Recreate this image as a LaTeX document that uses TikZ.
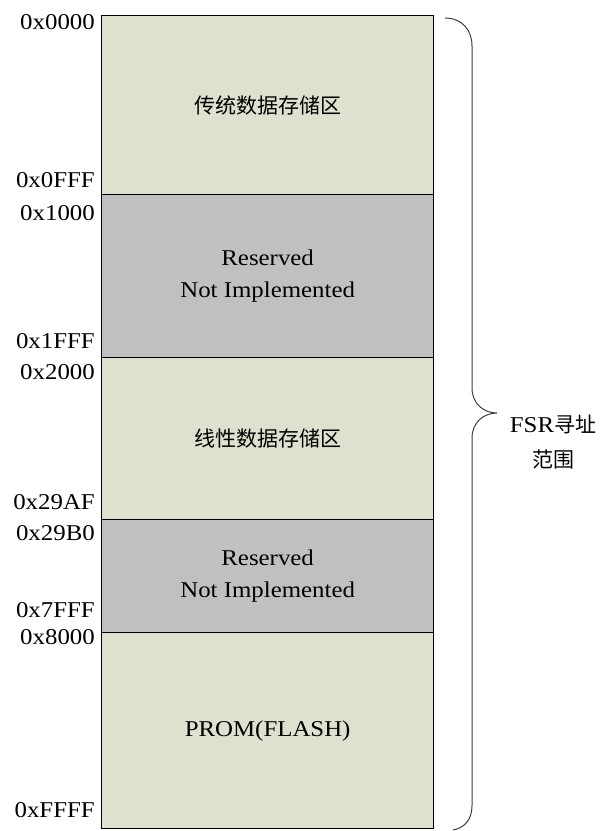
\documentclass[tikz,border=0pt]{standalone}
\usepackage{fontspec}
\setmainfont{Liberation Serif}[FakeStretch=1.1]
\newfontfamily\cjk{Noto Sans CJK SC}
\definecolor{memgreen}{RGB}{221,225,205}
\definecolor{memgray}{RGB}{192,192,192}
\definecolor{bracegray}{RGB}{60,60,60}
\begin{document}
\begin{tikzpicture}[x=1pt,y=-1pt,
  block/.style={draw=black, line width=1.3pt, anchor=north west, minimum width=332pt,
    inner sep=0pt, align=center, font=\fontsize{22.6}{32}\selectfont},
  addr/.style={anchor=east, inner sep=0pt, font=\fontsize{22.6}{28}\selectfont}]
\useasboundingbox (0,0) rectangle (611,831);
\node[block, fill=memgreen, minimum height=179pt] (b1) at (101,15) {{\cjk\fontsize{21}{28}\selectfont 传统数据存储区}};
\node[block, fill=memgray, minimum height=163pt] (b2) at (101,194) {Reserved\\Not Implemented};
\node[block, fill=memgreen, minimum height=162pt] (b3) at (101,357) {{\cjk\fontsize{21}{28}\selectfont 线性数据存储区}};
\node[block, fill=memgray, minimum height=113pt] (b4) at (101,519) {Reserved\\Not Implemented};
\node[block, fill=memgreen, minimum height=196pt] (b5) at (101,632) {PROM(FLASH)};
\node[addr] (a1) at (95,22) {0x0000};
\node[addr] (a2) at (95,180) {0x0FFF};
\node[addr] (a3) at (95,213) {0x1000};
\node[addr] (a4) at (95,341) {0x1FFF};
\node[addr] (a5) at (95,372) {0x2000};
\node[addr] (a6) at (95,502) {0x29AF};
\node[addr] (a7) at (95,533) {0x29B0};
\node[addr] (a8) at (95,610) {0x7FFF};
\node[addr] (a9) at (95,637) {0x8000};
\node[addr] (a10) at (95,810) {0xFFFF};
\coordinate (bt) at (445,18);
\coordinate (tip) at (497,413);
\coordinate (bb) at (453,830);
\draw[bracegray, line width=1pt] (bt) .. controls (462,18) and (472,30) .. (472,46)
  -- (472,388) .. controls (472,404) and (484,413) .. (tip)
  .. controls (484,413) and (472,422) .. (472,438)
  -- (472,806) .. controls (472,820) and (464,828) .. (bb);
\node[align=center, inner sep=0pt, font=\fontsize{22.6}{35}\selectfont] (fsr) at (553,442)
  {FSR{\cjk\fontsize{21}{28}\selectfont 寻址}\\{\cjk\fontsize{21}{28}\selectfont 范围}};
\end{tikzpicture}
\end{document}
